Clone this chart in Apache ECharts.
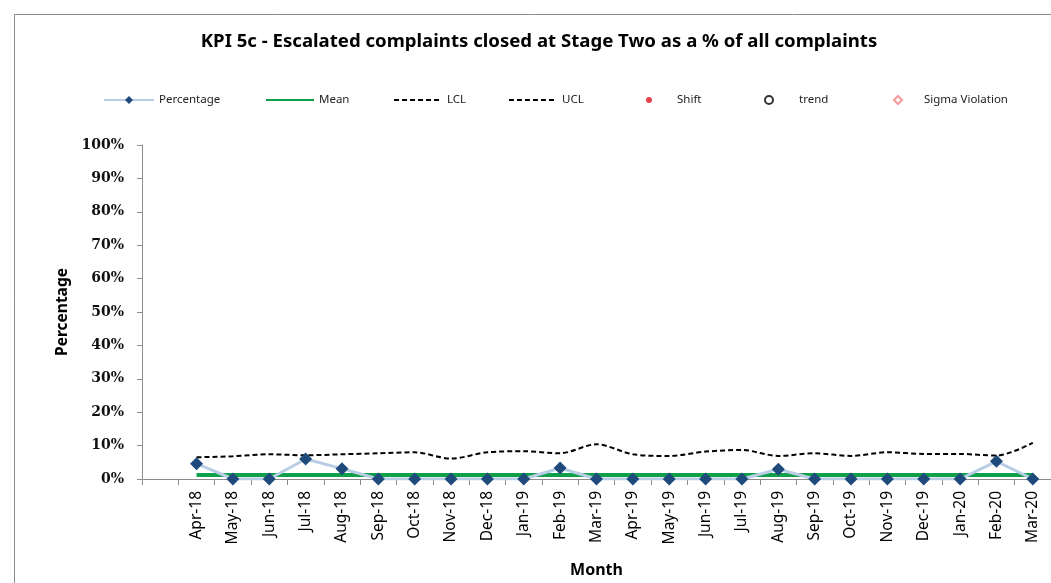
<!DOCTYPE html>
<html>
<head>
<meta charset="utf-8">
<script src="https://cdn.jsdelivr.net/npm/echarts@6/dist/echarts.min.js"></script>
<style>
  html, body { margin: 0; padding: 0; background: #fff; overflow: hidden; }
  #chart { width: 100vw; height: 100vh; }
</style>
</head>
<body>
<div id="chart"></div>
<script>
// Month categories (a blank slot precedes the first month on the axis)
const months = ['', 'Apr-18', 'May-18', 'Jun-18', 'Jul-18', 'Aug-18', 'Sep-18', 'Oct-18', 'Nov-18', 'Dec-18',
  'Jan-19', 'Feb-19', 'Mar-19', 'Apr-19', 'May-19', 'Jun-19', 'Jul-19', 'Aug-19', 'Sep-19',
  'Oct-19', 'Nov-19', 'Dec-19', 'Jan-20', 'Feb-20', 'Mar-20'];

// Monthly percentage of escalated complaints closed at Stage Two
const percentage = [null, 4.6, 0, 0, 6.0, 3.1, 0, 0, 0, 0, 0, 3.3, 0, 0, 0, 0, 0, 2.9, 0, 0, 0, 0, 0, 5.3, 0];
// Process mean
const mean = [null, 1.2, 1.2, 1.2, 1.2, 1.2, 1.2, 1.2, 1.2, 1.2, 1.2, 1.2, 1.2, 1.2, 1.2, 1.2, 1.2, 1.2, 1.2, 1.2, 1.2, 1.2, 1.2, 1.2, 1.2];
// Upper control limit
const ucl = [null, 6.5, 6.8, 7.4, 7.1, 7.4, 7.7, 8.0, 6.1, 8.0, 8.3, 7.7, 10.4, 7.4, 6.9, 8.2, 8.7, 6.9, 7.7, 6.9, 8.0, 7.5, 7.5, 7.0, 10.8];
// Lower control limit (floored below zero, not plotted)
const lcl = [];
// Rule-violation markers (none flagged in this period)
const shift = [];
const trend = [];
const sigmaViolation = [];

const yTicks = { min: 0, max: 100, interval: 10 };

const legendFont = { fontFamily: 'Noto Sans', fontSize: 11.5, color: '#222' };
const hiddenMarker = { color: 'rgba(0,0,0,0)', borderWidth: 0, opacity: 0 };

function legendAt(item, left, itemWidth, itemHeight, textPad) {
  return {
    data: [item], left: left, top: 94, itemWidth: itemWidth, itemHeight: itemHeight,
    itemGap: 0, padding: 0, selectedMode: false, symbolKeepAspect: true,
    textStyle: Object.assign({ padding: [0, 0, 0, textPad || 0] }, legendFont)
  };
}

const chart = echarts.init(document.getElementById('chart'), null, { renderer: 'canvas' });
chart.setOption({
  backgroundColor: '#ffffff',
  animation: false,
  title: {
    text: 'KPI 5c - Escalated complaints closed at Stage Two as a % of all complaints',
    left: 534, top: 27, textAlign: 'center',
    textStyle: { fontFamily: 'Noto Sans', fontWeight: 'bold', fontSize: 18.6, color: '#000' }
  },
  graphic: [{
    type: 'rect', left: 12, top: 12, z: -1, silent: true,
    shape: { width: 1100, height: 700 },
    style: { fill: 'none', stroke: '#8c8c8c', lineWidth: 1 }
  }],
  legend: [
    legendAt('Percentage', 103, 50, 10),
    legendAt({ name: 'Mean', itemStyle: hiddenMarker }, 265, 48, 10),
    legendAt({ name: 'LCL', itemStyle: hiddenMarker }, 393, 48, 10),
    legendAt({ name: 'UCL', itemStyle: hiddenMarker }, 508, 48, 10),
    legendAt({ name: 'Shift', icon: 'circle' }, 646, 6, 6, 20),
    legendAt({ name: 'trend', icon: 'circle' }, 764, 8, 8, 21),
    legendAt({ name: 'Sigma Violation', icon: 'diamond' }, 893, 8, 8, 17)
  ],
  grid: { left: 142, top: 145, width: 912.5, height: 345, containLabel: false },
  xAxis: {
    type: 'category', data: months, boundaryGap: true,
    name: 'Month', nameLocation: 'middle', nameGap: 83,
    nameTextStyle: { fontFamily: 'Noto Sans', fontWeight: 'bold', fontSize: 16, color: '#000' },
    axisLine: { lineStyle: { color: '#8c8c8c', width: 1 } },
    axisTick: { show: true, length: 6, lineStyle: { color: '#8c8c8c' } },
    axisLabel: { rotate: 90, margin: 12, interval: 0, fontFamily: 'Noto Sans', fontSize: 15.5, color: '#000' },
    splitLine: { show: false }
  },
  yAxis: {
    type: 'value', min: yTicks.min, max: yTicks.max, interval: yTicks.interval,
    name: 'Percentage', nameLocation: 'middle', nameGap: 59, nameRotate: 90,
    nameTextStyle: { fontFamily: 'Noto Sans', fontWeight: 'bold', fontSize: 15.5, color: '#000' },
    axisLine: { show: true, lineStyle: { color: '#8c8c8c', width: 1 } },
    axisTick: { show: true, length: 5, lineStyle: { color: '#8c8c8c' } },
    axisLabel: { formatter: '{value}%', margin: 18, fontFamily: 'DejaVu Serif', fontWeight: 'bold', fontSize: 14, color: '#111' },
    splitLine: { show: false }
  },
  series: [
    {
      name: 'Mean', type: 'line', data: mean, symbol: 'none', z: 2,
      lineStyle: { color: '#10a04a', width: 4 }, itemStyle: { color: '#10a04a' }
    },
    {
      name: 'LCL', type: 'line', data: lcl, symbol: 'none', z: 2,
      lineStyle: { color: '#000', width: 2, type: [5, 3] }, itemStyle: { color: '#000' }
    },
    {
      name: 'UCL', type: 'line', data: ucl, symbol: 'none', smooth: 0.3, z: 2,
      lineStyle: { color: '#000', width: 2, type: [5, 3] }, itemStyle: { color: '#000' }
    },
    {
      name: 'Percentage', type: 'line', data: percentage, z: 5,
      symbol: 'diamond', symbolSize: 13,
      lineStyle: { color: '#b9cde5', width: 3 },
      itemStyle: { color: '#1f4a7c' }
    },
    {
      name: 'Shift', type: 'scatter', data: shift, symbol: 'circle', symbolSize: 6,
      itemStyle: { color: '#e0141e' }
    },
    {
      name: 'trend', type: 'scatter', data: trend, symbol: 'circle', symbolSize: 8,
      itemStyle: { color: '#fff', borderColor: '#000', borderWidth: 1.2 }
    },
    {
      name: 'Sigma Violation', type: 'scatter', data: sigmaViolation, symbol: 'diamond', symbolSize: 8,
      itemStyle: { color: '#fff', borderColor: '#f08080', borderWidth: 1 }
    }
  ]
});
</script>
</body>
</html>
